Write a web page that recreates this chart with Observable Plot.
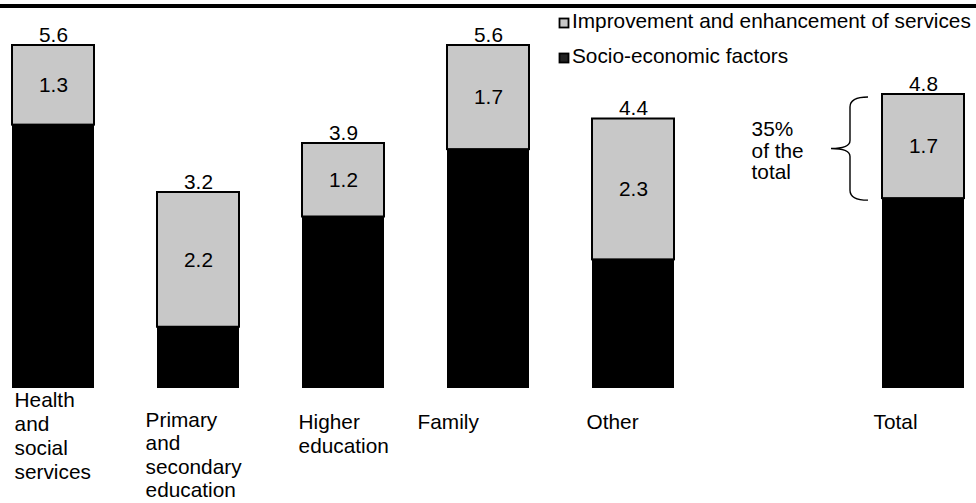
<!DOCTYPE html>
<html><head><meta charset="utf-8">
<script src="https://cdn.jsdelivr.net/npm/d3@7"></script>
<script src="https://cdn.jsdelivr.net/npm/@observablehq/plot@0.6"></script>
<style>
body{margin:0;background:#fff;font-family:"Liberation Sans",Arial,sans-serif;}
#wrap{position:relative;width:976px;height:503px;overflow:hidden;background:#fff;}
#overlay{position:absolute;left:0;top:0;}
</style></head><body>
<div id="wrap"><div id="chart"></div><svg id="overlay" width="976" height="70"></svg></div>
<script>
// ---- data ----
const categories = ["Health\nand\nsocial\nservices", "Primary\nand\nsecondary\neducation", "Higher\neducation", "Family", "Other", "Total"];
const socioEconomic = [4.3, 1.0, 2.8, 3.9, 2.1, 3.1];
const improvement = [1.3, 2.2, 1.2, 1.7, 2.3, 1.7];
const totalLabels = ["5.6", "3.2", "3.9", "5.6", "4.4", "4.8"];
const improvementLabels = ["1.3", "2.2", "1.2", "1.7", "2.3", "1.7"];
const seriesNames = ["Improvement and enhancement of services", "Socio-economic factors"];
const annotationText = "35%\nof the\ntotal";

// ---- layout / style ----
const FONT = 20.8;
const GRAY = "#c8c8c8";
const gapKey = "gap";
const domain = [...categories.slice(0, 5), gapKey, categories[5]];
const padInner = 0.437;
const mL = 11, mR = 11, W = 976, H = 503;
const bw = d3.scaleBand().domain(domain).range([mL, W - mR]).paddingInner(padInner).paddingOuter(0).bandwidth();
// label left offsets relative to band start, and vertical offsets
const labelShift = [2, -12, -4, -30, -6, -9];
const labelDy = [1, 22, 23, 23, 23, 23];
const labelLineHeight = [1.154, 1.12, 1.154, 1.154, 1.154, 1.154];

const rows = categories.map((c, i) => ({
  cat: c,
  black: socioEconomic[i],
  gray: improvement[i],
  totalLabel: totalLabels[i],
  grayLabel: improvementLabels[i]
}));

const braceMark = (index, scales) => {
  const t = rows[5];
  const x0 = scales.x(t.cat);
  const yT = scales.y(t.black + t.gray) + 3;
  const yB = scales.y(t.black) + 2;
  const yM = (yT + yB) / 2;
  const xe = x0 - 14, xv = x0 - 32, xt = x0 - 51;
  const d = `M${xe},${yT} Q${xv},${yT} ${xv},${yT + 10} L${xv},${yM - 8} Q${xv},${yM} ${xt},${yM} Q${xv},${yM} ${xv},${yM + 8} L${xv},${yB - 10} Q${xv},${yB} ${xe},${yB}`;
  return d3.create("svg:path").attr("d", d).attr("fill", "none").attr("stroke", "#000").attr("stroke-width", 1.4).node();
};

const labelMarks = rows.map((r, i) => Plot.text([r], {
  x: "cat", frameAnchor: "bottom", text: "cat",
  textAnchor: "start", lineAnchor: "top", lineHeight: labelLineHeight[i],
  dx: labelShift[i] - bw / 2, dy: labelDy[i], fontSize: FONT, fill: "#000"
}));

const chart = Plot.plot({
  width: W, height: H,
  marginTop: 20.5, marginBottom: 115, marginLeft: mL, marginRight: mR,
  style: {fontFamily: '"Liberation Sans", Arial, sans-serif', background: "#fff", overflow: "visible"},
  x: {domain, paddingInner: padInner, paddingOuter: 0, axis: null},
  y: {domain: [0, 6], axis: null},
  marks: [
    Plot.barY(rows, {x: "cat", y1: 0, y2: "black", fill: "#000"}),
    Plot.barY(rows, {x: "cat", y1: "black", y2: d => d.black + d.gray, fill: GRAY, stroke: "#000", strokeWidth: 2}),
    Plot.text(rows, {x: "cat", y: d => d.black + d.gray, text: "totalLabel", lineAnchor: "bottom", dy: -4, fontSize: FONT, fill: "#000"}),
    Plot.text(rows, {x: "cat", y: d => d.black + d.gray / 2, text: "grayLabel", fontSize: FONT, fill: "#000"}),
    ...labelMarks,
    Plot.text([{cat: gapKey, y: rows[5].black + rows[5].gray / 2}], {
      x: "cat", y: "y", text: () => annotationText, textAnchor: "start", lineAnchor: "middle",
      lineHeight: 1.05, dx: 14 - bw / 2, dy: 4, fontSize: FONT, fill: "#000"
    }),
    braceMark
  ]
});
document.getElementById("chart").appendChild(chart);

// ---- top rule and legend ----
const ov = d3.select("#overlay");
ov.append("rect").attr("x", 0).attr("y", 4).attr("width", W).attr("height", 4).attr("fill", "#000");
const leg = [
  {name: seriesNames[0], fill: GRAY, base: 28},
  {name: seriesNames[1], fill: "#222", base: 63}
];
leg.forEach(l => {
  ov.append("rect").attr("x", 559.5).attr("y", l.base - 9.5).attr("width", 9).attr("height", 9)
    .attr("fill", l.fill).attr("stroke", "#000").attr("stroke-width", 1.8);
  ov.append("text").attr("x", 572).attr("y", l.base).attr("font-size", FONT)
    .attr("font-family", '"Liberation Sans", Arial, sans-serif').attr("fill", "#000").text(l.name);
});
</script>
</body></html>
